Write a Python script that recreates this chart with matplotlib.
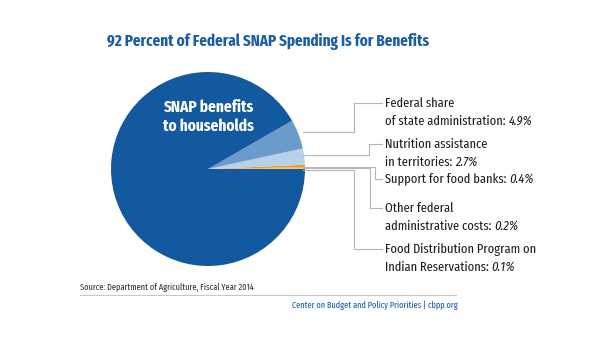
import matplotlib.pyplot as plt

# spending shares, percent
labels = ["Food Distribution Program on\nIndian Reservations:", "Other federal\nadministrative costs:",
          "Support for food banks:", "Nutrition assistance\nin territories:",
          "Federal share\nof state administration:", "SNAP benefits\nto households"]
shares = [0.1, 0.2, 0.4, 2.7, 4.9, 91.7]
colors = ["#f7c36b", "#f3b04a", "#f09a1e", "#b7d1e9", "#6b9bcb", "#12599f"]

plt.rcParams['font.family'] = ['Fira Sans Extra Condensed', 'DejaVu Sans']

fig = plt.figure(figsize=(6.08, 3.37), dpi=100)
ax = fig.add_axes([0, 0, 1, 1])

ax.pie(shares, colors=colors, center=(208, 169), radius=97, startangle=0,
       counterclock=False, wedgeprops=dict(linewidth=0), frame=True)
ax.set_xlim(0, 608)
ax.set_ylim(337, 0)
ax.set_aspect('equal')
ax.axis('off')

blue = "#1a5ea8"
ax.text(268, 42, "92 Percent of Federal SNAP Spending Is for Benefits", ha='center', va='center',
        fontsize=11.8, fontweight='bold', color=blue)
ax.text(163, 117, labels[5], ha='left', va='center', fontsize=12, fontweight='bold',
        color='white', linespacing=1.25)

# leader lines: (y at pie, x of bend, y of label)
leaders = [(132, 354, 103), (155, 369, 144), (167, 375, 179), (168, 370, 208), (170, 354, 249)]
label_idx = [4, 3, 2, 1, 0]
gray = "#b5b5b5"
dark = "#231f20"
fs = 9.7
for (y0, xb, yl), i in zip(leaders, label_idx):
    ax.plot([303, xb, xb, 382], [y0, y0, yl, yl], color=gray, lw=0.8)
    lines = labels[i].split('\n')
    if len(lines) == 2:
        ax.text(385, yl, lines[0], ha='left', va='center', fontsize=fs, color=dark)
        t = ax.text(385, yl + 18, lines[1], ha='left', va='center', fontsize=fs, color=dark)
    else:
        t = ax.text(385, yl, lines[0], ha='left', va='center', fontsize=fs, color=dark)
    fig.canvas.draw()
    bb = t.get_window_extent().transformed(ax.transData.inverted())
    ax.text(bb.x1 + 3, t.get_position()[1], f"{shares[i]}%", ha='left', va='center',
            fontsize=fs, style='italic', color=dark)

ax.text(80, 287, "Source: Department of Agriculture, Fiscal Year 2014", ha='left', va='center',
        fontsize=6.5, color="#333333")
ax.plot([80, 456], [295, 295], color="#c8c8c8", lw=0.8)
ax.text(458, 305, "Center on Budget and Policy Priorities | cbpp.org", ha='right', va='center',
        fontsize=6.5, color=blue)

fig.savefig("out.png", dpi=100)
